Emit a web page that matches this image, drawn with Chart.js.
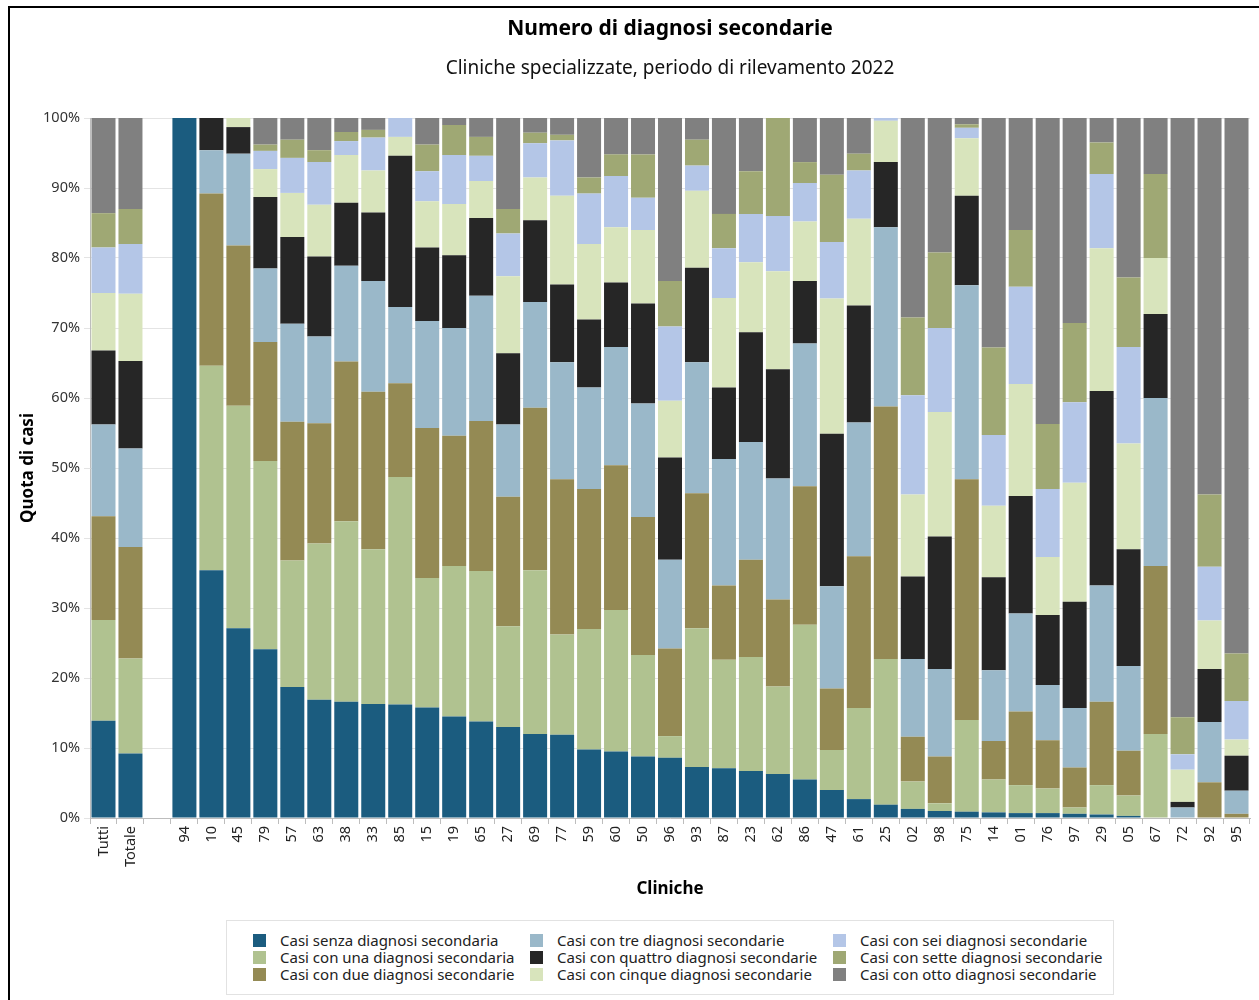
<!DOCTYPE html>
<html>
<head>
<meta charset="utf-8">
<script src="https://cdn.jsdelivr.net/npm/chart.js@4.4.0/dist/chart.umd.min.js"></script>
<style>
  body { margin: 0; background: #fff; font-family: "Noto Sans", "Open Sans", sans-serif; }
  #frame { position: absolute; left: 8px; top: 6px; width: 1260px; height: 1000px;
           border-left: 2px solid #000; border-top: 2px solid #000; }
  #wrap { position: absolute; left: 10px; top: 9px; width: 1249px; height: 900px; }
  #legend { position: absolute; left: 226px; top: 920px; width: 888px; height: 75px;
            border: 1px solid #e2e2e2; box-sizing: border-box; font-size: 15px; color: #222; }
  .item { position: absolute; height: 17px; line-height: 17px; white-space: nowrap; }
  .sw { position: absolute; left: 0; top: 2px; width: 13px; height: 13px; }
  .lbl { position: absolute; left: 27px; top: 0; }
</style>
</head>
<body>
<div id="frame"></div>
<div id="wrap"><canvas id="chart"></canvas></div>
<div id="legend"></div>
<script>
// categories (blank slot between totals and clinics)
const categories = ['Tutti', 'Totale', '', '94', '10', '45', '79', '57', '63', '38', '33', '85', '15', '19', '65',
  '27', '69', '77', '59', '60', '50', '96', '93', '87', '23', '62', '86', '47', '61', '25', '02', '98', '75',
  '14', '01', '76', '97', '29', '05', '67', '72', '92', '95'];

// shares in % per number of secondary diagnoses
const senza = [13.9, 9.2, null, 100, 35.4, 27.1, 24.1, 18.7, 16.9, 16.6, 16.3, 16.2, 15.8, 14.5, 13.8, 13.0, 12.0, 11.9, 9.8, 9.5, 8.8, 8.6, 7.3, 7.1, 6.7, 6.3, 5.5, 4.0, 2.7, 1.9, 1.3, 1.0, 0.9, 0.8, 0.7, 0.7, 0.6, 0.5, 0.3, 0, 0, 0, 0];
const una = [14.4, 13.6, null, 0, 29.2, 31.8, 26.9, 18.1, 22.3, 25.8, 22.1, 32.5, 18.5, 21.5, 21.5, 14.4, 23.4, 14.3, 17.2, 20.2, 14.5, 3.1, 19.8, 15.5, 16.3, 12.5, 22.1, 5.7, 13.0, 20.8, 3.9, 1.1, 13.1, 4.7, 4.0, 3.5, 0.9, 4.2, 2.9, 12, 0, 0, 0];
const due = [14.8, 15.9, null, 0, 24.6, 22.9, 17.0, 19.8, 17.2, 22.8, 22.5, 13.4, 21.4, 18.6, 21.4, 18.5, 23.2, 22.2, 20.0, 20.7, 19.7, 12.5, 19.3, 10.6, 13.9, 12.4, 19.8, 8.8, 21.7, 36.1, 6.4, 6.7, 34.4, 5.5, 10.5, 6.9, 5.7, 11.9, 6.4, 24, 0, 5.1, 0.6];
const tre = [13.1, 14.1, null, 0, 6.2, 13.1, 10.5, 14.0, 12.4, 13.7, 15.8, 10.9, 15.3, 15.4, 17.9, 10.3, 15.1, 16.7, 14.5, 16.9, 16.2, 12.7, 18.7, 18.1, 16.8, 17.3, 20.4, 14.6, 19.1, 25.6, 11.1, 12.5, 27.7, 10.1, 14.0, 7.9, 8.5, 16.6, 12.1, 24, 1.5, 8.6, 3.3];
const quattro = [10.6, 12.5, null, 0, 4.6, 3.8, 10.2, 12.4, 11.4, 9.0, 9.8, 21.6, 10.5, 10.4, 11.1, 10.2, 11.7, 11.1, 9.7, 9.2, 14.3, 14.6, 13.5, 10.2, 15.7, 15.6, 8.9, 21.8, 16.7, 9.3, 11.8, 18.9, 12.8, 13.3, 16.8, 10.0, 15.2, 27.8, 16.7, 12, 0.8, 7.6, 5.0];
const cinque = [8.2, 9.6, null, 0, 0, 1.3, 4.0, 6.3, 7.4, 6.8, 6.0, 2.7, 6.6, 7.3, 5.3, 11.0, 6.1, 12.7, 10.8, 7.9, 10.5, 8.1, 11.0, 12.8, 10.0, 14.0, 8.5, 19.3, 12.4, 5.9, 11.7, 17.8, 8.2, 10.2, 16.0, 8.3, 17.0, 20.4, 15.1, 8, 4.6, 6.9, 2.3];
const sei = [6.5, 7.1, null, 0, 0, 0, 2.6, 5.0, 6.1, 2.0, 4.7, 2.7, 4.3, 7.0, 3.6, 6.1, 4.9, 7.9, 7.2, 7.3, 4.6, 10.6, 3.6, 7.1, 6.9, 7.9, 5.5, 8.1, 6.9, 0.4, 14.2, 12.0, 1.5, 10.1, 13.9, 9.7, 11.5, 10.6, 13.8, 0, 2.2, 7.7, 5.5];
const sette = [4.9, 5.0, null, 0, 0, 0, 0.9, 2.6, 1.7, 1.3, 1.1, 0, 3.8, 4.3, 2.7, 3.5, 1.5, 0.8, 2.3, 3.1, 6.2, 6.5, 3.7, 4.9, 6.1, 14.0, 3.0, 9.6, 2.4, 0, 11.1, 10.8, 0.5, 12.5, 8.1, 9.3, 11.3, 4.5, 9.9, 12, 5.3, 10.3, 6.8];
const otto = [13.6, 13.0, null, 0, 0, 0, 3.8, 3.1, 4.6, 2.0, 1.7, 0, 3.8, 1.0, 2.7, 13.0, 2.1, 2.4, 8.5, 5.2, 5.2, 23.3, 3.1, 13.7, 7.6, 0, 6.3, 8.1, 5.1, 0, 28.5, 19.2, 0.9, 32.8, 16.0, 43.7, 29.3, 3.5, 22.8, 8, 85.6, 53.8, 76.5];

const seriesNames = [
  'Casi senza diagnosi secondaria', 'Casi con una diagnosi secondaria', 'Casi con due diagnosi secondarie',
  'Casi con tre diagnosi secondarie', 'Casi con quattro diagnosi secondarie', 'Casi con cinque diagnosi secondarie',
  'Casi con sei diagnosi secondarie', 'Casi con sette diagnosi secondarie', 'Casi con otto diagnosi secondarie'
];
const seriesData = [senza, una, due, tre, quattro, cinque, sei, sette, otto];
const colors = ['#1b5c7f', '#b0c290', '#948a54', '#9ab8c9', '#262626', '#d8e4bc', '#b4c6e7', '#9fa874', '#808080'];

const fontFam = '"Noto Sans", "Open Sans", sans-serif';

const datasets = seriesData.map((d, i) => ({
  label: seriesNames[i],
  data: d,
  backgroundColor: colors[i],
  borderWidth: 0,
  barPercentage: 0.89,
  categoryPercentage: 1.0
}));

new Chart(document.getElementById('chart'), {
  type: 'bar',
  data: { labels: categories, datasets: datasets },
  options: {
    responsive: true,
    maintainAspectRatio: false,
    animation: false,
    layout: { padding: { left: 0, right: 9, top: 0, bottom: 0 } },
    plugins: {
      legend: { display: false },
      tooltip: { enabled: false },
      title: {
        display: true,
        text: 'Numero di diagnosi secondarie',
        fullSize: false,
        color: '#000',
        font: { family: fontFam, size: 21, weight: 'bold' },
        padding: { top: 7, bottom: 9 }
      },
      subtitle: {
        display: true,
        text: 'Cliniche specializzate, periodo di rilevamento 2022',
        fullSize: false,
        color: '#111',
        font: { family: fontFam, size: 19 },
        padding: { top: 7, bottom: 38 }
      }
    },
    scales: {
      x: {
        stacked: true,
        grid: { drawOnChartArea: false, drawTicks: true, tickLength: 6, color: '#bdbdbd' },
        border: { color: '#bdbdbd' },
        ticks: {
          color: '#222', maxRotation: 90, minRotation: 90, autoSkip: false,
          font: { family: fontFam, size: 14.5 }, padding: 2
        },
        title: {
          display: true, text: 'Cliniche', color: '#000',
          font: { family: fontFam, size: 17, weight: 'bold' },
          padding: { top: 0, bottom: 10 }
        },
        afterFit: (s) => { s.height = 91; }
      },
      y: {
        stacked: true,
        min: 0,
        max: 100,
        grid: { color: '#e4e4e4', tickLength: 6 },
        border: { color: '#bdbdbd' },
        ticks: {
          stepSize: 10, color: '#333', padding: 4,
          font: { family: fontFam, size: 14.5 },
          callback: (v) => v + '%'
        },
        title: {
          display: true, text: 'Quota di casi', color: '#000',
          font: { family: fontFam, size: 17, weight: 'bold' },
          padding: { top: 8, bottom: 0 }
        },
        afterFit: (s) => { s.width = 80; }
      }
    }
  }
});

// legend: three columns, filled column by column
const legend = document.getElementById('legend');
const colLeft = [26, 303, 606];
const rowTop = [11, 28, 45];
seriesNames.forEach((name, i) => {
  const item = document.createElement('div');
  item.className = 'item';
  item.style.left = colLeft[Math.floor(i / 3)] + 'px';
  item.style.top = rowTop[i % 3] + 'px';
  item.innerHTML = '<span class="sw" style="background:' + colors[i] + '"></span><span class="lbl">' + name + '</span>';
  legend.appendChild(item);
});
</script>
</body>
</html>
